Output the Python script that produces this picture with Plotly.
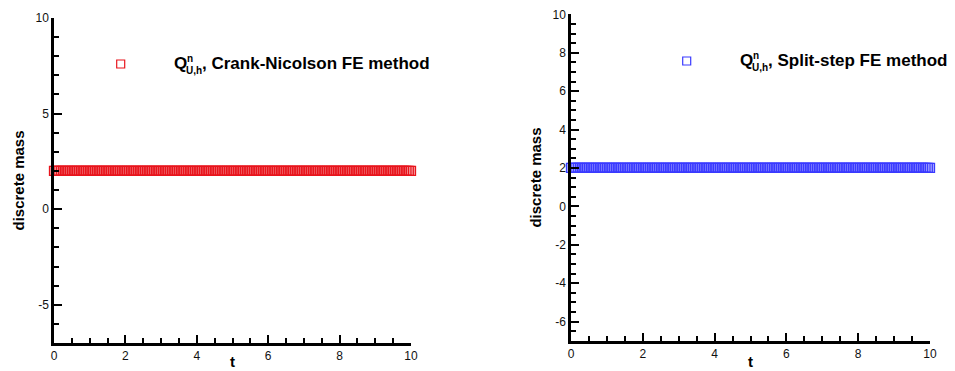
import plotly.graph_objects as go

# ---- data ----
t_steps = [round(i * 0.05, 2) for i in range(201)]          # time levels 0 .. 10
mass_cn = [2.0 for _ in t_steps]                             # Crank-Nicolson discrete mass
mass_ss = [2.0 for _ in t_steps]                             # Split-step discrete mass
x_ticks = [0, 2, 4, 6, 8, 10]
x_ticklabels = ["0", "2", "4", "6", "8", "10"]
y_ticks_left = [-5, 0, 5, 10]
y_ticklabels_left = ["-5", "0", "5", "10"]
y_ticks_right = [-6, -4, -2, 0, 2, 4, 6, 8, 10]
y_ticklabels_right = ["-6", "-4", "-2", "0", "2", "4", "6", "8", "10"]
legend_cn = ", Crank-Nicolson FE method"
legend_ss = ", Split-step FE method"
x_title = "t"
y_title = "discrete mass"

W, H = 955, 371
FONT = "Liberation Sans, Arial, sans-serif"
RED = "#e8141c"
BLUE = "#3a3aff"

fig = go.Figure()
fig.add_trace(go.Scatter(x=t_steps, y=mass_cn, mode="markers", xaxis="x", yaxis="y",
                         marker=dict(symbol="square-open", size=9, color=RED, line=dict(width=1.3)),
                         cliponaxis=False, showlegend=False))
fig.add_trace(go.Scatter(x=t_steps, y=mass_ss, mode="markers", xaxis="x2", yaxis="y2",
                         marker=dict(symbol="square-open", size=9, color=BLUE, line=dict(width=1.3)),
                         cliponaxis=False, showlegend=False))

def xax(domain, anchor):
    return dict(domain=domain, anchor=anchor, range=[0, 10], automargin=False,
                tickmode="array", tickvals=x_ticks, ticktext=x_ticklabels,
                ticks="inside", ticklen=8, tickwidth=2, tickcolor="black",
                showline=True, linecolor="black", linewidth=2.5, showgrid=False, zeroline=False,
                tickfont=dict(family=FONT, size=12, color="#111"),
                minor=dict(ticks="inside", dtick=0.5, tick0=0, ticklen=5, tickwidth=1.5,
                           tickcolor="black", showgrid=False))

def yax(domain, anchor, tv, tt, mdtick):
    return dict(domain=domain, anchor=anchor, range=[-7, 10], automargin=False,
                tickmode="array", tickvals=tv, ticktext=tt,
                ticks="inside", ticklen=8, tickwidth=2, tickcolor="black",
                showline=True, linecolor="black", linewidth=2.5, showgrid=False, zeroline=False,
                tickfont=dict(family=FONT, size=12, color="#111"),
                minor=dict(ticks="inside", dtick=mdtick, tick0=0, ticklen=5, tickwidth=1.5,
                           tickcolor="black", showgrid=False),
                title=dict(text="<b>" + y_title + "</b>", font=dict(family=FONT, size=15, color="black"), standoff=8))

fig.update_layout(
    width=W, height=H, margin=dict(l=0, r=0, t=0, b=0, autoexpand=False),
    paper_bgcolor="white", plot_bgcolor="white",
    xaxis=xax([54 / W, 411 / W], "y"),
    yaxis=yax([1 - 343 / H, 1 - 18 / H], "x", y_ticks_left, y_ticklabels_left, 1),
    xaxis2=xax([571 / W, 930 / W], "y2"),
    yaxis2=yax([1 - 340.7 / H, 1 - 14.3 / H], "x2", y_ticks_right, y_ticklabels_right, 0.5),
)

for xr in ["x domain", "x2 domain"]:
    fig.add_annotation(xref=xr, yref="paper", x=0.5, y=0, text="<b>" + x_title + "</b>",
                       showarrow=False, xanchor="center", yanchor="bottom", borderpad=0,
                       font=dict(family=FONT, size=15, color="black"))

def legend_block(mx, my, qx, qy, color, rest):
    fig.add_shape(type="rect", xref="paper", yref="paper", xsizemode="pixel", ysizemode="pixel",
                  xanchor=mx / W, yanchor=1 - my / H, x0=-4, x1=4, y0=-4, y1=4,
                  line=dict(color=color, width=1.2), fillcolor="rgba(0,0,0,0)")
    base = dict(xref="paper", yref="paper", showarrow=False, xanchor="left", yanchor="middle")
    fig.add_annotation(x=qx / W, y=1 - qy / H, text="<b>Q</b>",
                       font=dict(family=FONT, size=17, color="black"), **base)
    fig.add_annotation(x=(qx + 13.5) / W, y=1 - (qy - 5) / H, text="<b>n</b>",
                       font=dict(family=FONT, size=10, color="black"), **base)
    fig.add_annotation(x=(qx + 12.5) / W, y=1 - (qy + 7) / H, text="<b>U,h</b>",
                       font=dict(family=FONT, size=10, color="black"), **base)
    fig.add_annotation(x=(qx + 28.5) / W, y=1 - qy / H, text="<b>" + rest + "</b>",
                       font=dict(family=FONT, size=17, color="black"), **base)

legend_block(120.7, 64, 171.7, 63.7, RED, legend_cn)
legend_block(686.7, 61, 737.7, 60.5, BLUE, legend_ss)

fig.write_html("out.html")
